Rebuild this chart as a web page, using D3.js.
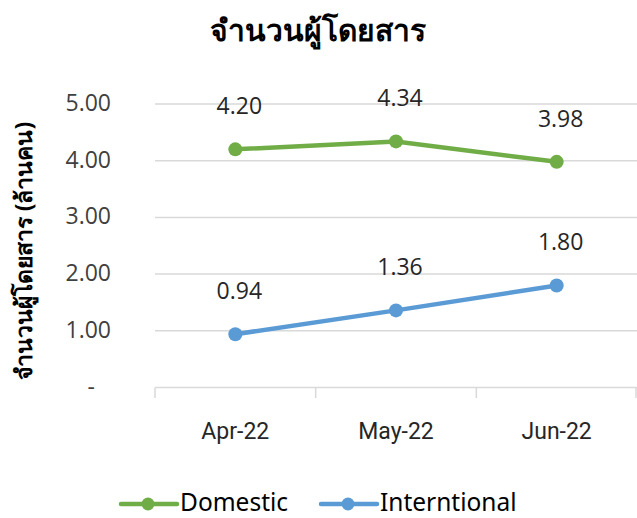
<!DOCTYPE html>
<html><head><meta charset="utf-8">
<script src="https://cdn.jsdelivr.net/npm/d3@7"></script>
<style>body{margin:0;background:#fff}svg{display:block}</style>
</head><body>
<svg id="c" width="637" height="518"></svg>
<script>
const categories = ["Apr-22", "May-22", "Jun-22"];
const domestic = [4.20, 4.34, 3.98];
const international = [0.94, 1.36, 1.80];
const yTicks = [0, 1, 2, 3, 4, 5];
const seriesNames = ["Domestic", "Interntional"];
const colors = ["#70AD47", "#5B9BD5"];

(function () {
const svg = d3.select("#c");
const pL = 155, pR = 637, pT = 104, pB = 387.5;
const x = d3.scaleBand().domain(categories).range([pL, pR]);
const y = d3.scaleLinear().domain([0, 5]).range([pB, pT]);
const numFont = "'Open Sans', 'Noto Sans', sans-serif";
const catFont = "Roboto, 'Liberation Sans', sans-serif";
const thaiFont = "'Noto Sans', 'DejaVu Sans', sans-serif";
const cx = c => x(c) + x.bandwidth() / 2;

// gridlines
svg.append("g").selectAll("line").data(yTicks.filter(d => d > 0)).join("line")
  .attr("x1", pL).attr("x2", pR)
  .attr("y1", d => y(d)).attr("y2", d => y(d))
  .attr("stroke", "#d9d9d9").attr("stroke-width", 1.5);

// x axis
svg.append("line").attr("x1", pL).attr("x2", pR).attr("y1", pB).attr("y2", pB)
  .attr("stroke", "#d9d9d9").attr("stroke-width", 1.5);
const bounds = categories.map(c => x(c)).concat([x(categories[categories.length-1]) + x.bandwidth()]);
svg.append("g").selectAll("line").data(bounds).join("line")
  .attr("x1", d => Math.min(d, pR - 1)).attr("x2", d => Math.min(d, pR - 1))
  .attr("y1", pB).attr("y2", pB + 10.5)
  .attr("stroke", "#d9d9d9").attr("stroke-width", 1.5);
svg.append("g").selectAll("text").data(categories).join("text")
  .attr("x", d => cx(d)).attr("y", 439)
  .attr("text-anchor", "middle").attr("font-family", catFont).attr("font-size", 23)
  .attr("fill", "#262626").text(d => d);

// y tick labels
svg.append("g").selectAll("text").data(yTicks).join("text")
  .attr("x", d => d === 0 ? 95 : 111).attr("y", d => y(d) + 7)
  .attr("text-anchor", "end").attr("font-family", numFont).attr("font-size", 23)
  .attr("fill", "#404040").text(d => d === 0 ? "-" : d3.format(".2f")(d));

// title
svg.append("text").attr("x", 318).attr("y", 41).attr("text-anchor", "middle")
  .attr("font-family", thaiFont).attr("font-weight", "bold").attr("font-size", 30)
  .attr("fill", "#000").text("จำนวนผู้โดยสาร");

// y axis label
svg.append("text").attr("transform", "translate(32,251) rotate(-90)")
  .attr("text-anchor", "middle").attr("font-family", thaiFont).attr("font-weight", "bold")
  .attr("font-size", 23).attr("fill", "#000").text("จำนวนผู้โดยสาร (ล้านคน)");

// lines
const series = [domestic, international];
const line = d3.line().x((d, i) => cx(categories[i])).y(d => y(d));
series.forEach((s, k) => {
  svg.append("path").datum(s).attr("d", line).attr("fill", "none")
    .attr("stroke", colors[k]).attr("stroke-width", 4.5).attr("stroke-linecap", "round");
  svg.append("g").selectAll("circle").data(s).join("circle")
    .attr("cx", (d, i) => cx(categories[i])).attr("cy", d => y(d))
    .attr("r", 7).attr("fill", colors[k]);
  svg.append("g").selectAll("text").data(s).join("text")
    .attr("x", (d, i) => cx(categories[i]) + 4)
    .attr("y", d => y(d) - 35)
    .attr("text-anchor", "middle").attr("font-family", numFont).attr("font-size", 23)
    .attr("fill", "#262626").text(d => d3.format(".2f")(d));
});

// legend
const lx = [121, 321];
seriesNames.forEach((n, k) => {
  const g = svg.append("g").attr("transform", `translate(${lx[k]},504)`);
  g.append("line").attr("x1", 0).attr("x2", 56).attr("y1", 0).attr("y2", 0)
    .attr("stroke", colors[k]).attr("stroke-width", 4.5).attr("stroke-linecap", "round");
  g.append("circle").attr("cx", 27).attr("cy", 0).attr("r", 6.5).attr("fill", colors[k]);
  g.append("text").attr("x", 59).attr("y", 7).attr("font-family", thaiFont)
    .attr("font-size", 24.5).attr("fill", "#000").text(n);
});
})();
</script>
</body></html>
